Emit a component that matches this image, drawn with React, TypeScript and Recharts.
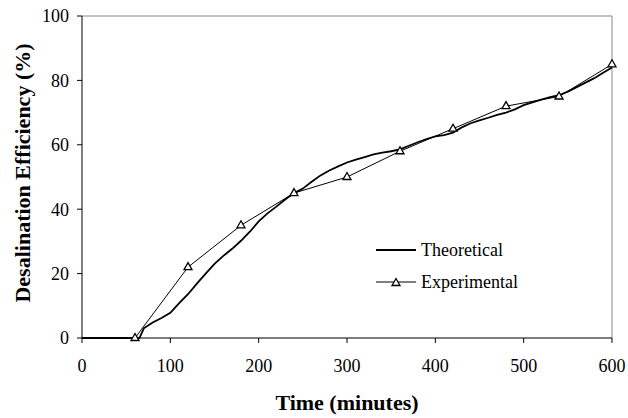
import { LineChart, Line, XAxis, YAxis, ReferenceLine, Label } from "recharts";

const theoTime = [0, 65, 70, 80, 90, 100, 110, 120, 130, 140, 150, 160, 170, 180, 190, 200, 210, 220, 230, 240, 250, 260, 270, 280, 290, 300, 310, 320, 330, 340, 350, 360, 370, 380, 390, 400, 410, 420, 430, 440, 450, 460, 470, 480, 490, 500, 510, 520, 530, 540, 550, 560, 570, 580, 590, 600];
const theoValues = [0, 0, 3, 4.8, 6.2, 7.8, 10.8, 13.6, 16.9, 20, 23, 25.5, 27.7, 30.2, 33, 36.2, 38.7, 40.8, 43, 45, 46.4, 48.5, 50.5, 52, 53.3, 54.5, 55.4, 56.2, 57, 57.6, 58, 58.6, 59.7, 60.8, 61.8, 62.6, 63, 63.8, 65.4, 66.7, 67.6, 68.4, 69.3, 70, 71, 72.3, 73.2, 74, 74.8, 75.4, 76.5, 77.9, 79.3, 80.7, 82.4, 84];

const expTime = [60, 120, 180, 240, 300, 360, 420, 480, 540, 600];
const expValues = [0, 22, 35, 45, 50, 58, 65, 72, 75, 85];

const xTicks = [0, 100, 200, 300, 400, 500, 600];
const yTicks = [0, 20, 40, 60, 80, 100];

const theoretical = theoTime.map((t, i) => ({ t, v: theoValues[i] }));
const experimental = expTime.map((t, i) => ({ t, v: expValues[i] }));

const FONT = "'Liberation Serif', 'Times New Roman', serif";

const Triangle = (props: any) => {
  const { cx, cy } = props;
  if (cx == null || cy == null) return null;
  return (
    <path
      d={`M${cx},${cy - 4.5}L${cx - 4},${cy + 2.5}L${cx + 4},${cy + 2.5}Z`}
      fill="#fff"
      stroke="#000"
      strokeWidth={1.3}
    />
  );
};

// legend kept outside the chart so it doesn't shrink the plot area
const LegendBox = () => (
  <div
    style={{
      position: "absolute",
      left: 376,
      top: 234,
      fontFamily: FONT,
      fontSize: 18,
      color: "#000",
      lineHeight: "20px",
    }}
  >
    <div style={{ display: "flex", alignItems: "center", height: 32 }}>
      <svg width={42} height={10}>
        <line x1={0} y1={5} x2={40} y2={5} stroke="#000" strokeWidth={1.8} />
      </svg>
      <span style={{ marginLeft: 3 }}>Theoretical</span>
    </div>
    <div style={{ display: "flex", alignItems: "center", height: 32 }}>
      <svg width={42} height={12}>
        <line x1={0} y1={6} x2={40} y2={6} stroke="#000" strokeWidth={1} />
        <Triangle cx={20} cy={7} />
      </svg>
      <span style={{ marginLeft: 3 }}>Experimental</span>
    </div>
  </div>
);

const YTitle = () => {
  const x = 22;
  const y = 173;
  return (
    <text
      x={x}
      y={y}
      transform={`rotate(-90, ${x}, ${y})`}
      textAnchor="middle"
      dominantBaseline="central"
      style={{ fontSize: 22, fontWeight: "bold", fill: "#000", fontFamily: FONT }}
    >
      Desalination Efficiency (%)
    </text>
  );
};

export default function App() {
  return (
    <div style={{ position: "absolute", left: 0, top: 0, width: 628, height: 418, background: "#fff" }}>
      <LineChart width={628} height={418} margin={{ top: 16, right: 16, bottom: 0, left: 0 }}>
        <XAxis
          dataKey="t"
          type="number"
          domain={[0, 600]}
          ticks={xTicks}
          allowDuplicatedCategory={false}
          height={80}
          tickSize={5}
          tickMargin={16}
          stroke="#000"
          tick={{ fontSize: 18, fill: "#000", fontFamily: FONT }}
        >
          <Label
            value="Time (minutes)"
            position="insideBottom"
            offset={8}
            style={{ fontSize: 22, fontWeight: "bold", fill: "#000", fontFamily: FONT }}
          />
        </XAxis>
        <YAxis
          dataKey="v"
          type="number"
          domain={[0, 100]}
          ticks={yTicks}
          width={82}
          tickSize={5}
          tickMargin={8}
          stroke="#000"
          tick={{ fontSize: 18, fill: "#000", fontFamily: FONT }}
        >
          <Label content={() => <YTitle />} />
        </YAxis>
        <ReferenceLine y={100} stroke="#888" strokeWidth={1} />
        <ReferenceLine x={600} stroke="#888" strokeWidth={1} />
        <Line
          data={theoretical}
          dataKey="v"
          name="Theoretical"
          type="linear"
          stroke="#000"
          strokeWidth={1.8}
          dot={false}
          activeDot={false}
          isAnimationActive={false}
        />
        <Line
          data={experimental}
          dataKey="v"
          name="Experimental"
          type="linear"
          stroke="#000"
          strokeWidth={1}
          dot={<Triangle />}
          activeDot={false}
          isAnimationActive={false}
        />
      </LineChart>
      <LegendBox />
    </div>
  );
}
